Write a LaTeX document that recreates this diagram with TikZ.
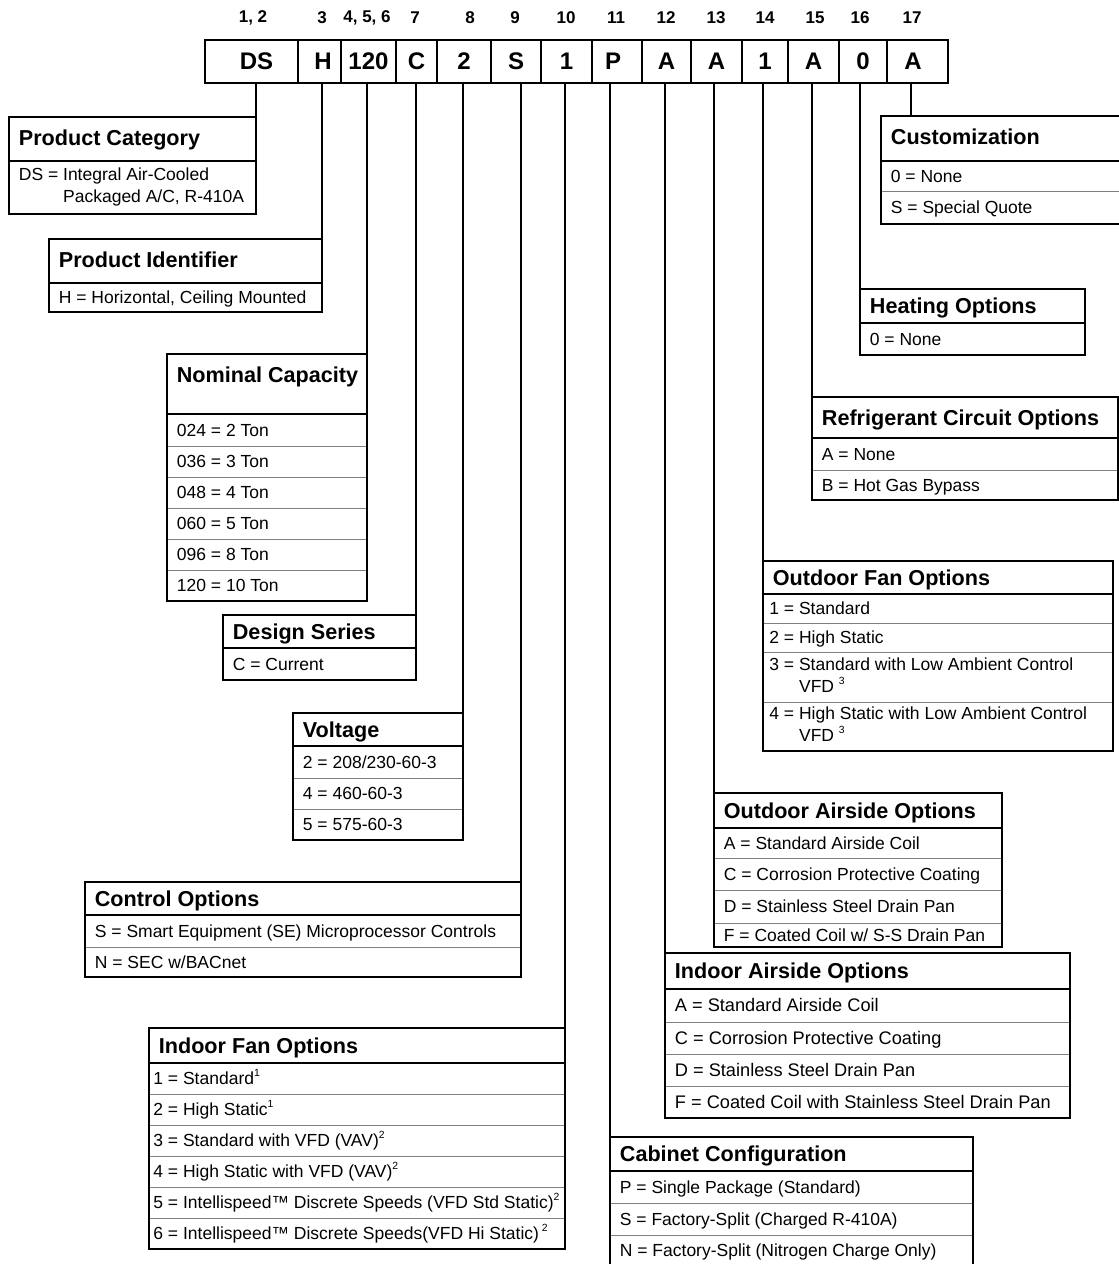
\documentclass[tikz,border=0pt]{standalone}
\usepackage{fontspec}
\setmainfont{Liberation Sans}
\newcommand{\fnote}[1]{\raisebox{4pt}{\fontsize{5.2}{5.2}\selectfont #1}}
\newcommand{\rowstrut}{\rule[-2.2pt]{0pt}{10.67pt}}
\newcommand{\headstrut}{\rule[-2.8pt]{0pt}{13.33pt}}
% name, left, top, right, head bottom, bottom, title, rows, row style
\newcommand{\keybox}[9]{%
  \coordinate (#1nw) at (#2,#3);
  \coordinate (#1ne) at (#4,#3);
  \node[head, anchor=west] (#1) at (#2,{min((#3+#5)/2,#3+21)}) {#7};
  \draw[frame] (#2,#5) -- (#4,#5);
  \foreach \yb/\txt [count=\k, remember=\yb as \ya (initially #5)] in {#8} {
    \node[item, anchor=west, #9] (#1\k) at (#2,{(\ya+\yb)/2}) {\txt};
    \draw[sep] (#2,\yb) -- (#4,\yb);
  }
  \draw[frame] (#2,#3) rectangle (#4,#6);
}

\begin{document}
\begin{tikzpicture}[x=0.5pt, y=-0.5pt,
    cell/.style={draw, line width=1pt, minimum height=21.5pt, inner sep=0pt,
      font=\bfseries\fontsize{12}{14}\selectfont},
    idx/.style={inner sep=0pt, font=\bfseries\fontsize{8.5}{10}\selectfont},
    head/.style={inner xsep=4.75pt, inner ysep=0pt,
      font=\bfseries\fontsize{10.8}{13}\selectfont, execute at begin node=\headstrut},
    item/.style={inner xsep=4.75pt, inner ysep=0pt, align=left,
      font=\fontsize{8.75}{11}\selectfont, execute at begin node=\rowstrut},
    frame/.style={line width=1pt},
    sep/.style={line width=0.5pt, draw=black!50}]
  \useasboundingbox (0,0) rectangle (1119,1264);
  \clip (0,0) rectangle (1119,1264);

  % model number
  \foreach \l/\r/\t [count=\i] in {205/298/\hspace*{5pt}DS, 298/341/\hspace*{3.5pt}H,
      341/396/120, 396/437/C, 437/491/2, 491/541/S, 541/592/1, 592/642/P\hspace*{4pt},
      642/691/A, 691/742/A, 742/788/1, 788/839/A, 839/887/0, 887/948/A\hspace*{4.5pt}}
    \node[cell, minimum width={(\r-\l)*0.5pt}] (c\i) at ({(\l+\r)/2},61) {\t};
  \foreach \x/\t [count=\i] in {253/{1, 2}, 322/3, 367/{4, 5, 6}, 415/7, 470/8,
      515/9, 566/10, 616/11, 666/12, 716/13, 765/14, 815/15, 860/16, 912/17}
    \node[idx] (n\i) at (\x,18) {\t};

  % option boxes
  \keybox{cat}{9}{117}{256}{161}{214}{Product Category}
    {214/{DS = Integral Air-Cooled\\\phantom{DS = }Packaged A/C, R-410A\rowstrut}}{}
  \keybox{ident}{49}{239}{322}{283}{312}{Product Identifier}
    {312/{H = Horizontal, Ceiling Mounted}}{}
  \keybox{cap}{167}{354}{367}{414}{601}{Nominal Capacity}
    {446/024 = 2 Ton, 477/036 = 3 Ton, 508/048 = 4 Ton, 539/060 = 5 Ton,
     570/096 = 8 Ton, 601/120 = 10 Ton}{}
  \keybox{series}{223}{615}{416}{648}{680}{Design Series}{680/C = Current}{}
  \keybox{volt}{293}{713}{463}{746}{840}{Voltage}
    {778/{2 = 208/230-60-3}, 809/4 = 460-60-3, 840/5 = 575-60-3}{}
  \keybox{ctrl}{85}{882}{521}{915}{977}{Control Options}
    {947/S = Smart Equipment (SE) Microprocessor Controls, 977/{N = SEC w/BACnet}}{}
  \keybox{fan}{149}{1028}{565}{1063}{1249}{Indoor Fan Options}
    {1094/1 = Standard\fnote{1}, 1125/2 = High Static\fnote{1},
     1156/3 = Standard with VFD (VAV)\fnote{2}, 1187/4 = High Static with VFD (VAV)\fnote{2},
     1218/5 = Intellispeed™ Discrete Speeds (VFD Std Static)\fnote{2},
     1249/6 = Intellispeed™ Discrete Speeds(VFD Hi Static)\,\fnote{2}}{inner xsep=2pt}
  \keybox{cab}{610}{1137}{973}{1171}{1266}{Cabinet Configuration}
    {1203/P = Single Package (Standard), 1235/S = Factory-Split (Charged R-410A),
     1266/N = Factory-Split (Nitrogen Charge Only)}{}
  \keybox{inair}{665}{953}{1070}{989}{1118}{Indoor Airside Options}
    {1022/A = Standard Airside Coil, 1054/C = Corrosion Protective Coating,
     1086/D = Stainless Steel Drain Pan, 1118/F = Coated Coil with Stainless Steel Drain Pan}
    {font=\fontsize{9.1}{11.5}\selectfont}
  \keybox{outair}{714}{793}{1002}{828}{947}{Outdoor Airside Options}
    {858/A = Standard Airside Coil, 890/C = Corrosion Protective Coating,
     923/D = Stainless Steel Drain Pan, 947/{F = Coated Coil w/ S-S Drain Pan}}{}
  \keybox{outfan}{763}{561}{1113}{594}{751}{Outdoor Fan Options}
    {623/1 = Standard, 652/2 = High Static,
     702/{3 = Standard with Low Ambient Control\\\phantom{3 = }VFD \fnote{3}\rowstrut},
     751/{4 = High Static with Low Ambient Control\\\phantom{4 = }VFD \fnote{3}\rowstrut}}
    {inner xsep=3pt}
  \keybox{refr}{812}{397}{1118}{438}{500}{Refrigerant Circuit Options}
    {470/A = None, 500/B = Hot Gas Bypass}{}
  \keybox{heat}{860}{289}{1085}{323}{355}{Heating Options}{355/0 = None}{}
  \keybox{cust}{881}{116}{1125}{161}{224}{Customization}
    {191/0 = None, 224/S = Special Quote}{}
  \coordinate (custtap) at (911,116);

  \begin{scope}[every edge/.style={draw=black, line width=1pt}]
    \path (c1.south -| catne) edge (catne)
          (c2.south -| identne) edge (identne)
          (c3.south -| capne) edge (capne)
          (c4.south -| seriesne) edge (seriesne)
          (c5.south -| voltne) edge (voltne)
          (c6.south -| ctrlne) edge (ctrlne)
          (c7.south -| fanne) edge (fanne)
          (c8.south -| cabnw) edge (cabnw)
          (c9.south -| inairnw) edge (inairnw)
          (c10.south -| outairnw) edge (outairnw)
          (c11.south -| outfannw) edge (outfannw)
          (c12.south -| refrnw) edge (refrnw)
          (c13.south -| heatnw) edge (heatnw)
          (c14.south -| custtap) edge (custtap);
  \end{scope}
\end{tikzpicture}
\end{document}
